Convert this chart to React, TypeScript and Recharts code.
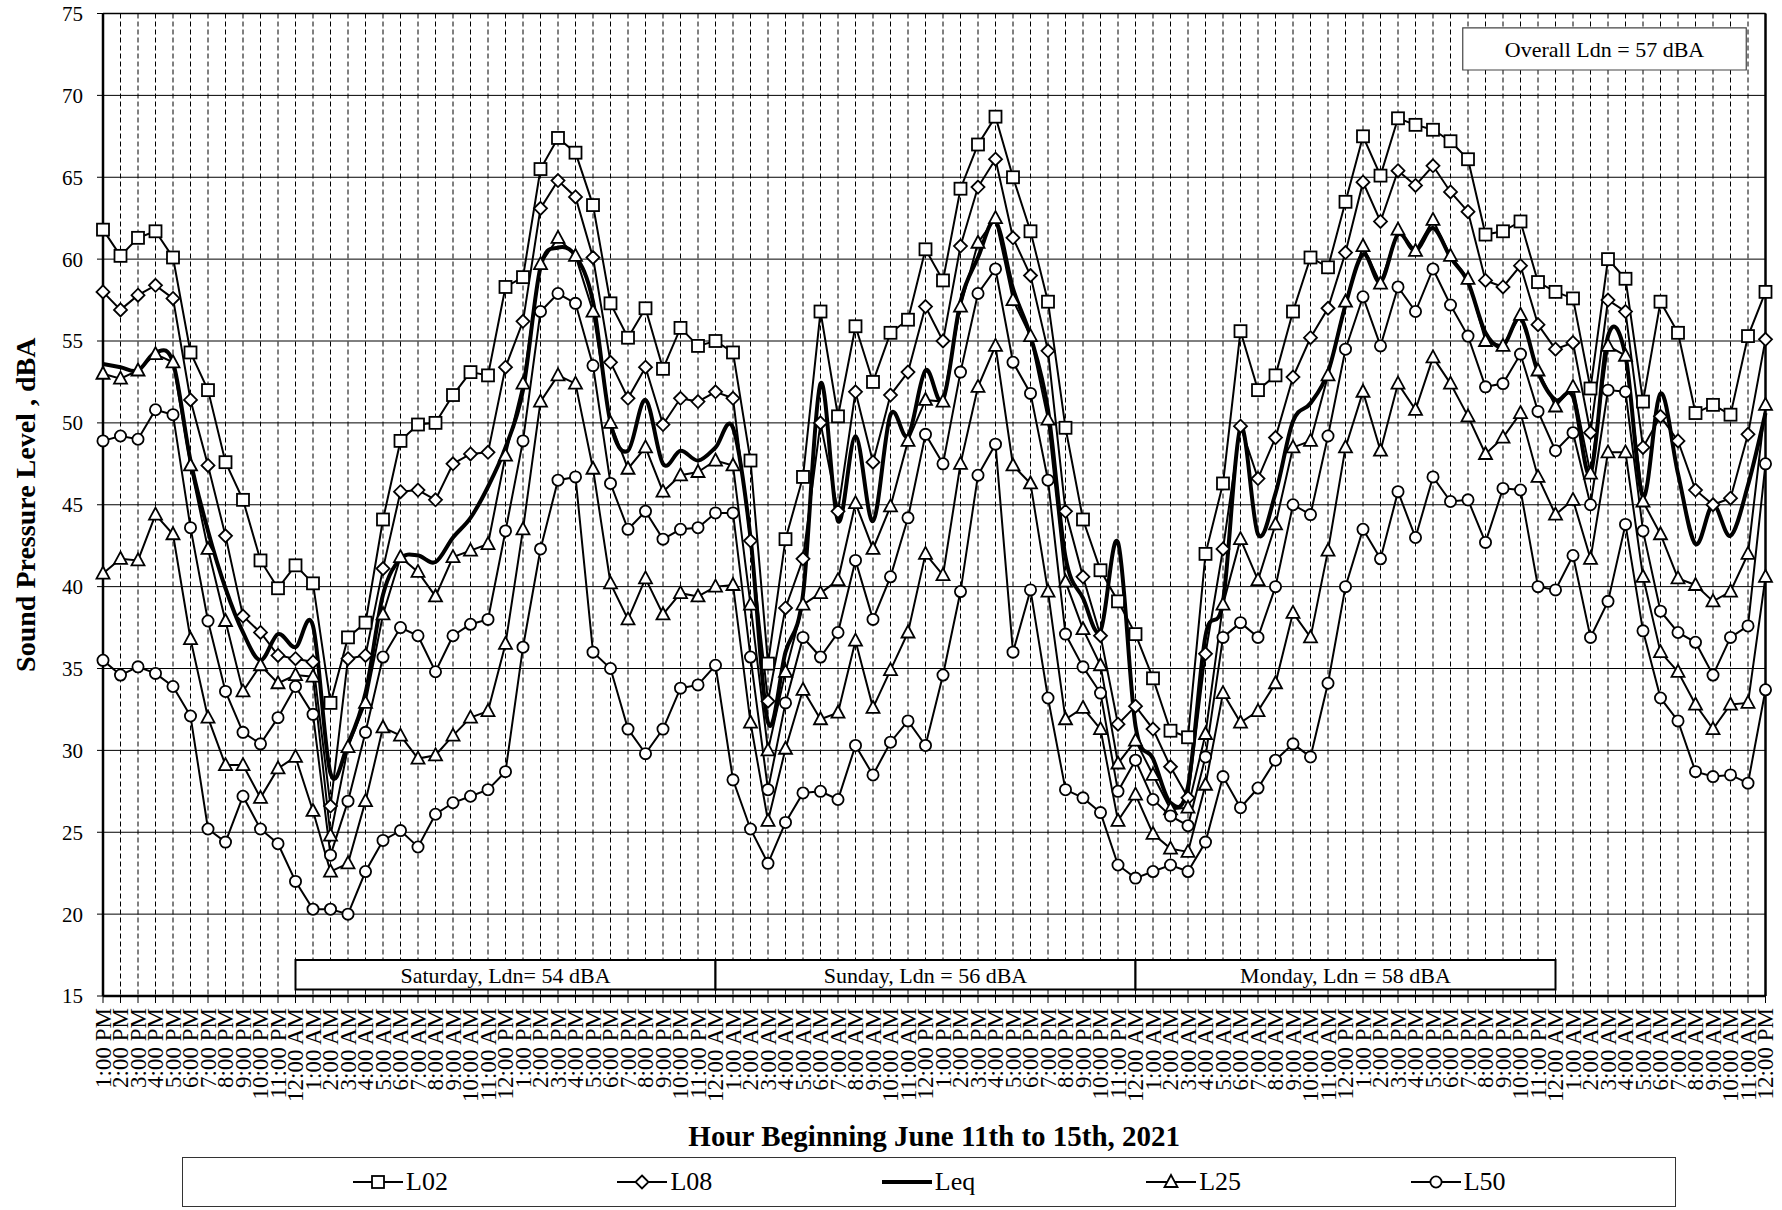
import React from 'react';
import {
  LineChart,
  Line,
  XAxis,
  YAxis,
  CartesianGrid,
  ReferenceArea,
  ReferenceLine,
  Legend,
} from 'recharts';

const serif = '"Liberation Serif", "Times New Roman", serif';

// one day of hour labels, the record starts at 1 PM
const hourCycle = [
  '1:00 PM', '2:00 PM', '3:00 PM', '4:00 PM', '5:00 PM', '6:00 PM',
  '7:00 PM', '8:00 PM', '9:00 PM', '10:00 PM', '11:00 PM', '12:00 AM',
  '1:00 AM', '2:00 AM', '3:00 AM', '4:00 AM', '5:00 AM', '6:00 AM',
  '7:00 AM', '8:00 AM', '9:00 AM', '10:00 AM', '11:00 AM', '12:00 PM',
];
const hourLabels = [...hourCycle, ...hourCycle, ...hourCycle, ...hourCycle];
const hourTicks = hourLabels.map((_, i) => i);
const levelTicks = [15, 20, 25, 30, 35, 40, 45, 50, 55, 60, 65, 70, 75];

const l02 = [
  61.8, 60.2, 61.3, 61.7, 60.1, 54.3, 52.0, 47.6, 45.3, 41.6, 39.9, 41.3,
  40.2, 32.9, 36.9, 37.8, 44.1, 48.9, 49.9, 50.0, 51.7, 53.1, 52.9, 58.3,
  58.9, 65.5, 67.4, 66.5, 63.3, 57.3, 55.2, 57.0, 53.3, 55.8, 54.7, 55.0,
  54.3, 47.7, 35.3, 42.9, 46.7, 56.8, 50.4, 55.9, 52.5, 55.5, 56.3, 60.6,
  58.7, 64.3, 67.0, 68.7, 65.0, 61.7, 57.4, 49.7, 44.1, 41.0, 39.1, 37.1,
  34.4, 31.2, 30.8, 42.0, 46.3, 55.6, 52.0, 52.9, 56.8, 60.1, 59.5, 63.5,
  67.5, 65.1, 68.6, 68.2, 67.9, 67.2, 66.1, 61.5, 61.7, 62.3, 58.6, 58.0,
  57.6, 52.1, 60.0, 58.8, 51.3, 57.4, 55.5, 50.6, 51.1, 50.5, 55.3, 58.0,
];
const l08 = [
  58.0, 56.9, 57.8, 58.4, 57.6, 51.4, 47.4, 43.1, 38.2, 37.2, 35.8, 35.6,
  35.4, 26.6, 35.6, 35.8, 41.1, 45.8, 45.9, 45.3, 47.5, 48.1, 48.2, 53.4,
  56.2, 63.1, 64.8, 63.8, 60.1, 53.7, 51.5, 53.4, 49.9, 51.5, 51.3, 51.9,
  51.5, 42.8, 33.0, 38.7, 41.7, 50.0, 44.6, 51.9, 47.6, 51.7, 53.1, 57.1,
  55.0, 60.8, 64.4, 66.1, 61.3, 59.0, 54.4, 44.6, 40.6, 37.0, 31.6, 32.7,
  31.3, 29.0, 27.1, 35.9, 42.3, 49.8, 46.6, 49.1, 52.8, 55.2, 57.0, 60.4,
  64.7, 62.3, 65.4, 64.5, 65.7, 64.1, 62.9, 58.7, 58.3, 59.6, 56.0, 54.5,
  54.9, 49.4, 57.5, 56.8, 48.5, 50.4, 48.9, 45.9, 45.0, 45.4, 49.3, 55.1,
];
const leq = [
  53.6, 53.4, 53.2, 54.3, 53.7, 47.7, 43.4, 39.9, 37.2, 35.5, 37.1, 36.3,
  37.6, 28.6, 30.4, 33.5, 39.5, 41.7, 41.9, 41.5, 43.0, 44.2, 46.1, 48.5,
  52.0, 59.5, 60.7, 60.2, 57.4, 50.0, 48.3, 51.4, 47.5, 48.3, 47.7, 48.5,
  49.7, 43.0, 31.7, 36.0, 39.5, 52.4, 44.0, 49.2, 44.0, 50.5, 49.2, 53.2,
  51.4, 57.4, 60.1, 62.3, 58.2, 55.3, 50.8, 41.8, 39.3, 37.3, 42.7, 31.5,
  29.5, 26.8, 27.8, 37.0, 39.1, 49.7, 43.2, 45.7, 50.1, 51.2, 53.1, 57.2,
  60.3, 58.6, 61.5, 60.5, 61.9, 60.1, 58.6, 55.5, 54.7, 56.4, 53.1, 51.4,
  51.6, 46.9, 55.3, 54.1, 45.5, 51.8, 46.9, 42.6, 45.0, 43.1, 46.2, 50.6,
];
const l25 = [
  53.0, 52.7, 53.2, 54.2, 53.7, 47.4, 42.3, 37.9, 33.6, 35.2, 34.1, 34.6,
  34.5, 24.8, 30.2, 32.9, 38.3, 41.8, 40.9, 39.4, 41.8, 42.2, 42.6, 48.0,
  52.4, 59.7, 61.3, 60.2, 56.8, 50.0, 47.2, 48.5, 45.8, 46.8, 47.0, 47.7,
  47.4, 38.9, 30.0, 34.8, 38.9, 39.6, 40.4, 45.1, 42.3, 44.9, 48.9, 51.4,
  51.3, 57.1, 61.0, 62.5, 57.5, 55.3, 50.2, 40.3, 37.4, 35.2, 29.2, 30.6,
  28.5, 26.4, 26.5, 31.0, 38.9, 42.9, 40.4, 43.8, 48.5, 48.9, 52.9, 57.4,
  60.8, 58.5, 61.8, 60.5, 62.4, 60.2, 58.8, 55.0, 54.7, 56.6, 53.2, 51.0,
  52.2, 46.9, 54.7, 54.1, 45.2, 43.2, 40.5, 40.1, 39.1, 39.7, 42.0, 51.1,
];
const l50 = [
  48.9, 49.2, 49.0, 50.8, 50.5, 43.6, 37.9, 33.6, 31.1, 30.4, 32.0, 33.9,
  32.2, 23.6, 26.9, 31.1, 35.7, 37.5, 37.0, 34.8, 37.0, 37.7, 38.0, 43.4,
  48.9, 56.8, 57.9, 57.3, 53.5, 46.3, 43.5, 44.6, 42.9, 43.5, 43.6, 44.5,
  44.5, 35.7, 27.6, 32.9, 36.9, 35.7, 37.2, 41.6, 38.0, 40.6, 44.2, 49.3,
  47.5, 53.1, 57.9, 59.4, 53.7, 51.8, 46.5, 37.1, 35.1, 33.5, 27.5, 29.4,
  27.0, 26.0, 25.4, 29.6, 36.9, 37.8, 36.9, 40.0, 45.0, 44.4, 49.2, 54.5,
  57.7, 54.7, 58.3, 56.8, 59.4, 57.2, 55.3, 52.2, 52.4, 54.2, 50.7, 48.3,
  49.4, 45.0, 52.0, 51.9, 43.4, 38.5, 37.2, 36.6, 34.6, 36.9, 37.6, 47.5,
];
// the two lower series are plotted but left out of the legend
const l90 = [
  40.8, 41.7, 41.6, 44.4, 43.2, 36.8, 32.0, 29.1, 29.1, 27.1, 28.9, 29.6,
  26.3, 22.6, 23.1, 26.9, 31.4, 30.9, 29.5, 29.7, 30.9, 32.0, 32.4, 36.5,
  43.5, 51.3, 52.9, 52.4, 47.2, 40.2, 38.0, 40.5, 38.3, 39.6, 39.4, 40.0,
  40.1, 31.7, 25.7, 30.1, 33.7, 31.9, 32.3, 36.7, 32.6, 34.9, 37.2, 42.0,
  40.7, 47.5, 52.2, 54.7, 47.4, 46.3, 39.7, 31.9, 32.6, 31.3, 25.7, 27.3,
  24.9, 24.0, 23.8, 27.9, 33.5, 31.7, 32.4, 34.1, 38.4, 36.9, 42.2, 48.5,
  51.9, 48.3, 52.4, 50.8, 54.0, 52.4, 50.4, 48.1, 49.1, 50.6, 46.7, 44.4,
  45.3, 41.7, 48.2, 48.2, 40.6, 36.0, 34.8, 32.8, 31.3, 32.8, 32.9, 40.6,
];
const l99 = [
  35.5, 34.6, 35.1, 34.7, 33.9, 32.1, 25.2, 24.4, 27.2, 25.2, 24.3, 22.0,
  20.3, 20.3, 20.0, 22.6, 24.5, 25.1, 24.1, 26.1, 26.8, 27.2, 27.6, 28.7,
  36.3, 42.3, 46.5, 46.7, 36.0, 35.0, 31.3, 29.8, 31.3, 33.8, 34.0, 35.2,
  28.2, 25.2, 23.1, 25.6, 27.4, 27.5, 27.0, 30.3, 28.5, 30.5, 31.8, 30.3,
  34.6, 39.7, 46.8, 48.7, 36.0, 39.8, 33.2, 27.6, 27.1, 26.2, 23.0, 22.2,
  22.6, 23.0, 22.6, 24.4, 28.4, 26.5, 27.7, 29.4, 30.4, 29.6, 34.1, 40.0,
  43.5, 41.7, 45.8, 43.0, 46.7, 45.2, 45.3, 42.7, 46.0, 45.9, 40.0, 39.8,
  41.9, 36.9, 39.1, 43.8, 37.3, 33.2, 31.8, 28.7, 28.4, 28.5, 28.0, 33.7,
];

const dayBoxes = [
  { from: 11, to: 35, text: 'Saturday, Ldn= 54 dBA' },
  { from: 35, to: 59, text: 'Sunday, Ldn = 56 dBA' },
  { from: 59, to: 83, text: 'Monday, Ldn = 58 dBA' },
];
const overallText = 'Overall Ldn = 57 dBA';

const data = hourLabels.map((label, idx) => ({
  idx,
  label,
  L02: l02[idx],
  L08: l08[idx],
  Leq: leq[idx],
  L25: l25[idx],
  L50: l50[idx],
  L90: l90[idx],
  L99: l99[idx],
}));

// Excel style smoothed line (Catmull-Rom through the points)
const excelSmooth = (context: any) => {
  let pts: number[][] = [];
  return {
    areaStart() {},
    areaEnd() {},
    lineStart() {
      pts = [];
    },
    point(x: number, y: number) {
      pts.push([+x, +y]);
    },
    lineEnd() {
      if (!pts.length) return;
      context.moveTo(pts[0][0], pts[0][1]);
      for (let i = 0; i < pts.length - 1; i++) {
        const p0 = pts[i - 1] || pts[i];
        const p1 = pts[i];
        const p2 = pts[i + 1];
        const p3 = pts[i + 2] || p2;
        context.bezierCurveTo(
          p1[0] + (p2[0] - p0[0]) / 6,
          p1[1] + (p2[1] - p0[1]) / 6,
          p2[0] - (p3[0] - p1[0]) / 6,
          p2[1] - (p3[1] - p1[1]) / 6,
          p2[0],
          p2[1]
        );
      }
    },
  };
};

const mk = { fill: '#fff', stroke: '#000', strokeWidth: 1.8 };

const SquareDot = (p: any) =>
  p.cx == null ? null : (
    <rect key={'s' + p.index} x={p.cx - 6} y={p.cy - 6} width={12} height={12} {...mk} />
  );
const DiamondDot = (p: any) =>
  p.cx == null ? null : (
    <path
      key={'d' + p.index}
      d={`M${p.cx},${p.cy - 6.5}L${p.cx + 6.5},${p.cy}L${p.cx},${p.cy + 6.5}L${p.cx - 6.5},${p.cy}Z`}
      {...mk}
    />
  );
const TriangleDot = (p: any) =>
  p.cx == null ? null : (
    <path
      key={'t' + p.index}
      d={`M${p.cx},${p.cy - 7}L${p.cx + 6.5},${p.cy + 5}L${p.cx - 6.5},${p.cy + 5}Z`}
      {...mk}
    />
  );
const CircleDot = (p: any) =>
  p.cx == null ? null : <circle key={'c' + p.index} cx={p.cx} cy={p.cy} r={5.6} {...mk} />;

const series = [
  { key: 'L02', dot: SquareDot, shown: true },
  { key: 'L08', dot: DiamondDot, shown: true },
  { key: 'Leq', dot: null, shown: true },
  { key: 'L25', dot: TriangleDot, shown: true },
  { key: 'L50', dot: CircleDot, shown: true },
  { key: 'L90', dot: TriangleDot, shown: false },
  { key: 'L99', dot: CircleDot, shown: false },
];

const HourTick = (props: any) => {
  const { x, y, payload } = props;
  return (
    <text
      x={x}
      y={y}
      transform={`rotate(-90 ${x} ${y})`}
      textAnchor="end"
      dy="0.33em"
      fontFamily={serif}
      fontSize={23}
      fill="#000"
    >
      {hourLabels[payload.value]}
    </text>
  );
};

const XTitle = (props: any) => {
  const vb = props.viewBox || {};
  return (
    <text
      x={vb.x + vb.width / 2}
      y={vb.y + 150}
      textAnchor="middle"
      fontFamily={serif}
      fontWeight="bold"
      fontSize={29}
      fill="#000"
    >
      Hour Beginning June 11th to 15th, 2021
    </text>
  );
};

const YTitle = (props: any) => {
  const vb = props.viewBox || {};
  const cy = vb.y + vb.height / 2;
  return (
    <text
      x={25}
      y={cy}
      transform={`rotate(-90 25 ${cy})`}
      textAnchor="middle"
      dy="0.35em"
      fontFamily={serif}
      fontWeight="bold"
      fontSize={28}
      fill="#000"
    >
      Sound Pressure Level , dBA
    </text>
  );
};

const LegendIcon = ({ name }: { name: string }) => {
  const cx = 25;
  const cy = 10;
  const p = { cx, cy, index: 0 };
  let marker: any = null;
  if (name === 'L02') marker = SquareDot(p);
  if (name === 'L08') marker = DiamondDot(p);
  if (name === 'L25') marker = TriangleDot(p);
  if (name === 'L50') marker = CircleDot(p);
  return (
    <svg width={50} height={20} style={{ display: 'block' }}>
      <line x1={0} y1={cy} x2={50} y2={cy} stroke="#000" strokeWidth={name === 'Leq' ? 4 : 2} />
      {marker}
    </svg>
  );
};

const renderLegend = () => (
  <div
    style={{
      boxSizing: 'border-box',
      width: 1494,
      height: 50,
      border: '1.5px solid #333',
      background: '#fff',
      display: 'flex',
      alignItems: 'center',
      paddingLeft: 170,
      fontFamily: serif,
      fontSize: 26,
      color: '#000',
    }}
  >
    {series
      .filter((s) => s.shown)
      .map((s) => (
        <div key={s.key} style={{ width: 266, display: 'flex', alignItems: 'center' }}>
          <LegendIcon name={s.key} />
          <span style={{ marginLeft: 3 }}>{s.key}</span>
        </div>
      ))}
  </div>
);

const App = () => {
  return (
    <div style={{ position: 'absolute', left: 0, top: 0, width: 1782, height: 1210, background: '#fff' }}>
      <LineChart
        width={1782}
        height={1210}
        data={data}
        margin={{ top: 13.5, right: 16.5, left: 0, bottom: 3 }}
      >
        <CartesianGrid horizontal vertical={false} stroke="#000" strokeWidth={1} />
        <CartesianGrid horizontal={false} vertical stroke="#000" strokeWidth={1} strokeDasharray="5 3" />
        <XAxis
          type="number"
          dataKey="idx"
          domain={[0, 95]}
          ticks={hourTicks}
          interval={0}
          tick={<HourTick />}
          tickSize={7}
          tickMargin={5}
          tickLine={{ stroke: '#000' }}
          axisLine={{ stroke: '#000', strokeWidth: 2.5 }}
          height={161}
          label={<XTitle />}
        />
        <YAxis
          type="number"
          domain={[15, 75]}
          ticks={levelTicks}
          interval={0}
          width={103}
          tickSize={6}
          tickMargin={14}
          tick={{ fill: '#000', fontSize: 21, fontFamily: serif }}
          tickLine={{ stroke: '#000' }}
          axisLine={{ stroke: '#000', strokeWidth: 2.5 }}
          label={<YTitle />}
        />
        <ReferenceLine x={95} stroke="#000" strokeWidth={2.5} />
        <ReferenceLine y={75} stroke="#000" strokeWidth={1.5} />
        {dayBoxes.map((d) => (
          <ReferenceArea
            key={d.text}
            x1={d.from}
            x2={d.to}
            y1={15.4}
            y2={17.2}
            fill="#fff"
            fillOpacity={1}
            stroke="#000"
            strokeWidth={2}
            label={{ value: d.text, position: 'center', fill: '#000', fontSize: 22, fontFamily: serif }}
          />
        ))}
        <ReferenceArea
          x1={77.7}
          x2={93.9}
          y1={71.55}
          y2={74.12}
          fill="#fff"
          fillOpacity={1}
          stroke="#444"
          strokeWidth={1.2}
          label={{ value: overallText, position: 'center', fill: '#000', fontSize: 22, fontFamily: serif }}
        />
        {series.map((s) => (
          <Line
            key={s.key}
            dataKey={s.key}
            name={s.key}
            type={s.key === 'Leq' ? (excelSmooth as any) : 'linear'}
            stroke="#000"
            strokeWidth={s.key === 'Leq' ? 4 : 2}
            dot={s.dot ? (s.dot as any) : false}
            activeDot={false}
            legendType={s.shown ? 'line' : 'none'}
            isAnimationActive={false}
          />
        ))}
        <Legend
          verticalAlign="bottom"
          content={renderLegend}
          wrapperStyle={{ left: 182, top: 1157, width: 1494, height: 50 }}
        />
      </LineChart>
    </div>
  );
};

export default App;
